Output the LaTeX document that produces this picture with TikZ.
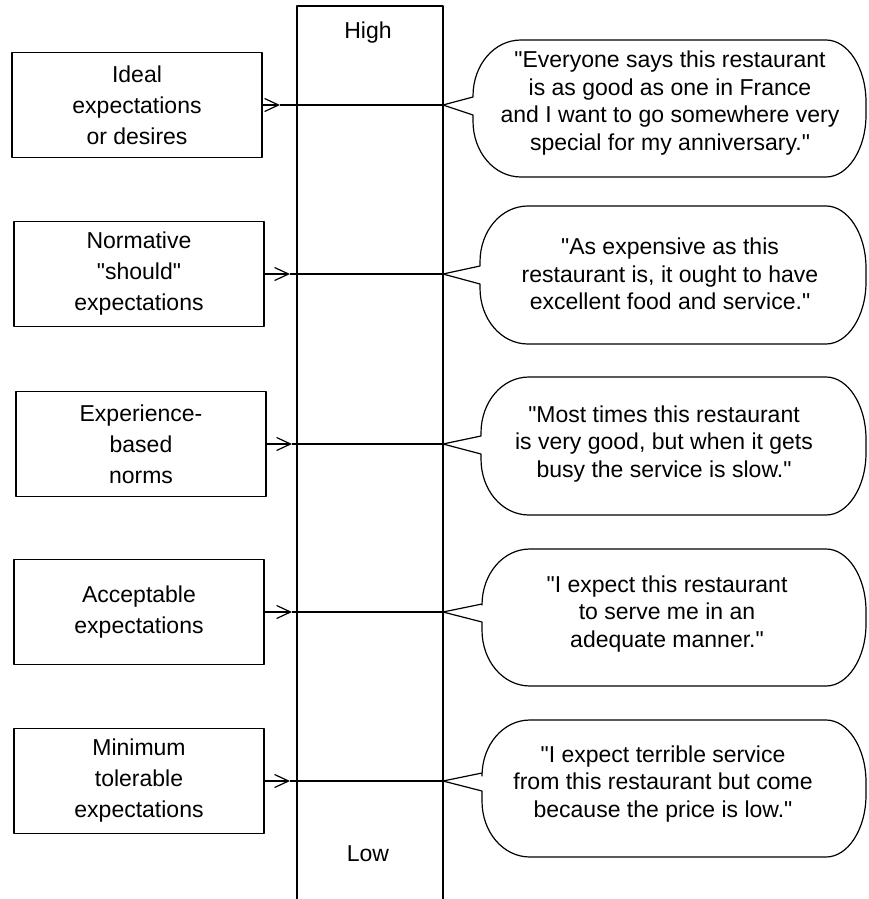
\documentclass[tikz,border=0pt]{standalone}
\usepackage{fontspec}
\setmainfont{Liberation Sans}
\usetikzlibrary{arrows.meta}
\newcommand{\qm}{\textquotedbl}

\begin{document}
\begin{tikzpicture}[x=1pt, y=-1pt, line width=1.2pt, line join=round,
    level/.style={draw, align=center, minimum width=250pt, minimum height=105pt,
        font=\fontsize{23}{31}\selectfont},
    quote/.style={align=center, font=\fontsize{23}{27.5}\selectfont},
    pointer/.style={-{Straight Barb[length=14pt, width=13pt]}}]
    \useasboundingbox (0,0) rectangle (868,899);

    % Scale column, open at the bottom
    \draw (297,899) -- (297,6) -- (443,6) -- (443,899);
    \node[font=\fontsize{23}{27}\selectfont] (high) at (368,33) {High};
    \node[font=\fontsize{23}{27}\selectfont] (low) at (368,854) {Low};

    % Expectation levels
    \node[level] (ideal) at (137,105) {Ideal\\expectations\\or desires};
    \node[level] (normative) at (139,274) {Normative\\\qm should\qm\\expectations};
    \node[level] (experience) at (141,444) {Experience-\\based\\norms};
    \node[level] (acceptable) at (139,612) {Acceptable\\expectations};
    \node[level] (minimum) at (139,781) {Minimum\\tolerable\\expectations};

    % Level lines across the column
    \foreach \src/\i/\y/\x in {ideal/1/105/280, normative/2/274/290, experience/3/444/292,
                               acceptable/4/612/292, minimum/5/781/290} {
        \coordinate (head\i) at (\x,\y);
        \coordinate (tip\i) at (443,\y);
        \draw[pointer] (\src) -- (head\i);
        \draw (head\i) -- (tip\i);
    }

    % Customer quotes
    \node[quote] (q1) at (670,103) {\qm Everyone says this restaurant\\is as good as one in France\\and I want to go somewhere very\\special for my anniversary.\qm};
    \node[quote] (q2) at (670,274) {\qm As expensive as this\\restaurant is, it ought to have\\excellent food and service.\qm};
    \node[quote] (q3) at (664,444) {\qm Most times this restaurant\\is very good, but when it gets\\busy the service is slow.\qm};
    \node[quote] (q4) at (667,614) {\qm I expect this restaurant\\to serve me in an\\adequate manner.\qm};
    \node[quote] (q5) at (663,784) {\qm I expect terrible service\\from this restaurant but come\\because the price is low.\qm};

    % Speech bubbles round the quotes
    \foreach \i/\t/\b/\l/\y in {1/40/177/473/105, 2/206/344/480/274, 3/377/515/481/444,
                                4/549/686/482/612, 5/720/857/482/781} {
        \draw (\l,\y-8) -- (\l,\t+56) .. controls (\l,\t+25) and (\l+21,\t) .. (\l+48,\t)
            -- (826,\t) .. controls (848,\t) and (866,\t+28) .. (866,\t+62)
            -- (866,\b-62) .. controls (866,\b-28) and (848,\b) .. (826,\b)
            -- (\l+48,\b) .. controls (\l+21,\b) and (\l,\b-25) .. (\l,\b-56)
            -- (\l,\y+10) -- (tip\i) -- cycle;
    }
\end{tikzpicture}
\end{document}
